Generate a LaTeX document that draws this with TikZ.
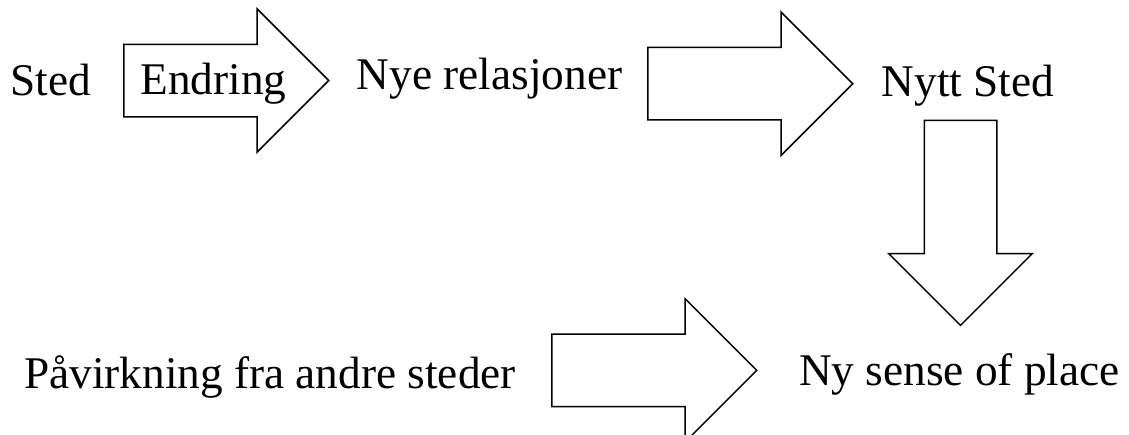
\documentclass[tikz,border=0pt]{standalone}
\usepackage{fontspec}
\setmainfont{Liberation Serif}
\usepackage{tikz}
\usetikzlibrary{shapes.arrows,positioning}

\begin{document}
\begin{tikzpicture}[x=1pt,y=-1pt,every node/.style={font=\fontsize{45.3}{50}\selectfont,inner sep=0pt},
  blokk/.style={draw,line width=1.5pt,single arrow,minimum height=205pt,single arrow head extend=35.5pt,single arrow tip angle=90,anchor=tail,inner xsep=0pt,inner ysep=35.5pt},
  ned/.style={blokk,shape border rotate=270,inner xsep=35.5pt,inner ysep=0pt}]
\useasboundingbox (0,0) rectangle (1129,434);
\node[blokk] (a1) at (123,80.5) {};
\node[blokk] (a2) at (647,83.7) {};
\node[ned] (a3) at (960.5,119.6) {};
\node[blokk] (a4) at (551,370.4) {};
\node[anchor=base] (sted) at (51,95) {Sted};
\node[anchor=base] (endr) at (213.5,94) {Endring};
\node[anchor=base] (nye) at (489.5,89) {Nye relasjoner};
\node[anchor=base] (nytt) at (968,96) {Nytt Sted};
\node[anchor=base] (pav) at (270,388) {Påvirkning fra andre steder};
\node[anchor=base] (ny) at (959.5,385) {Ny sense of place};
\end{tikzpicture}
\end{document}
